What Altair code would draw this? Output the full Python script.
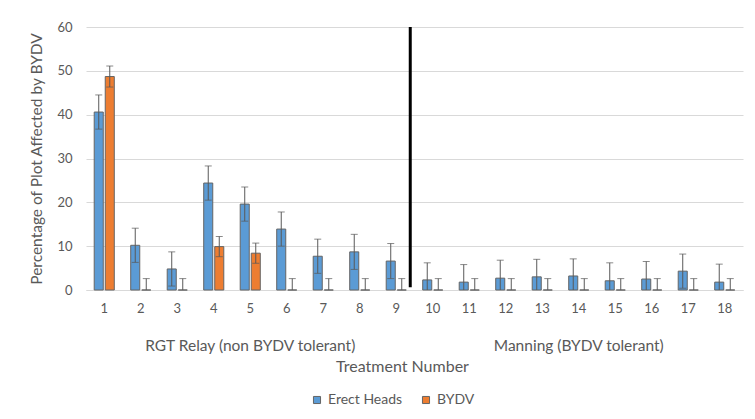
import altair as alt
import pandas as pd

cats = list(range(1, 19))
series_names = ["Erect Heads", "BYDV"]
erect = [40.6, 10.2, 4.8, 24.4, 19.6, 13.9, 7.7, 8.7, 6.6, 2.3, 1.8, 2.7, 3.0, 3.2, 2.1, 2.5, 4.3, 1.8]
erect_err = [3.9, 3.9, 3.9, 3.9, 3.9, 3.9, 3.9, 4.0, 4.0, 3.9, 4.0, 4.1, 4.0, 3.9, 4.1, 4.0, 3.9, 4.1]
bydv = [48.7, 0, 0, 9.9, 8.4, 0, 0, 0, 0, 0, 0, 0, 0, 0, 0, 0, 0, 0]
bydv_err = [2.4, 2.6, 2.6, 2.3, 2.3, 2.6, 2.6, 2.6, 2.6, 2.6, 2.6, 2.6, 2.6, 2.6, 2.6, 2.6, 2.6, 2.6]
group_cats = [5, 14]
group_labels = ["RGT Relay (non BYDV tolerant)", "Manning (BYDV tolerant)"]
divider_after = 9
colors = ["#5B9BD5", "#ED7D31"]

rows = []
for c, v, e in zip(cats, erect, erect_err):
    rows.append({"cat": c, "series": "Erect Heads", "value": v, "lo": max(0, v - e), "hi": v + e})
for c, v, e in zip(cats, bydv, bydv_err):
    rows.append({"cat": c, "series": "BYDV", "value": v, "lo": max(0, v - e), "hi": v + e})
df = pd.DataFrame(rows)
df_lo = df[df["value"] - (df["hi"] - df["value"]) > 0]
groups = pd.DataFrame({"cat": group_cats, "label": group_labels})
divider = pd.DataFrame({"cat": [divider_after], "y0": [0.6], "y1": [60]})

W, H = 657, 263
FONT = "Lato"
TXT = "#595959"

x = alt.X("cat:O", sort=cats, title="Treatment Number",
          scale=alt.Scale(paddingInner=0.45, paddingOuter=0.225),
          axis=alt.Axis(labelAngle=0, ticks=False, domainColor="#d9d9d9", labelPadding=12,
                        labelFontSize=13, labelColor=TXT, titleFontSize=16, titleColor=TXT,
                        titleFontWeight="normal", titleY=81, titleX=316, titleAlign="center",
                        titleBaseline="alphabetic"))
xo = alt.XOffset("series:N", sort=series_names, scale=alt.Scale(paddingInner=0.18))
yscale = alt.Scale(domain=[0, 60])
yaxis = alt.Axis(values=[0, 10, 20, 30, 40, 50, 60], ticks=False, domain=False, gridColor="#d9d9d9",
                 labelFontSize=13, labelColor=TXT, labelPadding=14, titleFontSize=15.5, titleColor=TXT,
                 titleFontWeight="normal", titlePadding=12)

base = alt.Chart(df)
bars = base.mark_bar(stroke="#656565", strokeWidth=1).encode(
    x=x, xOffset=xo,
    y=alt.Y("value:Q", scale=yscale, axis=yaxis, title="Percentage of Plot Affected by BYDV"),
    color=alt.Color("series:N", scale=alt.Scale(domain=series_names, range=colors),
                    legend=alt.Legend(title=None, orient="none", direction="horizontal",
                                      legendX=224, legendY=366, symbolType="square", symbolSize=50,
                                      symbolStrokeColor="#656565", symbolStrokeWidth=1,
                                      labelFontSize=14, labelColor=TXT, columnPadding=16,
                                      labelOffset=4)),
)
err = base.mark_rule(color="#595959", strokeWidth=1).encode(
    x=x, xOffset=xo, y=alt.Y("lo:Q", scale=yscale), y2="hi:Q")
cap_hi = base.mark_tick(color="#595959", thickness=1, size=7).encode(
    x=x, xOffset=xo, y=alt.Y("hi:Q", scale=yscale))
cap_lo = alt.Chart(df_lo).mark_tick(color="#595959", thickness=1, size=7).encode(
    x=x, xOffset=xo, y=alt.Y("lo:Q", scale=yscale))
div = alt.Chart(divider).mark_rule(color="black", strokeWidth=3, xOffset=14).encode(
    x=x, y=alt.Y("y0:Q", scale=yscale), y2="y1:Q")
glabels = alt.Chart(groups).mark_text(font=FONT, fontSize=15.5, color=TXT, baseline="alphabetic").encode(
    x=x, y=alt.value(H + 61), text="label:N")

chart = alt.layer(bars, err, cap_hi, cap_lo, div, glabels).properties(
    width=W, height=H,
    autosize=alt.AutoSizeParams(type="none"),
    padding={"left": 78, "top": 19, "right": 4, "bottom": 121},
).configure(font=FONT).configure_view(stroke=None)

chart.save("out.html", embed_options={"renderer": "svg", "actions": False})
